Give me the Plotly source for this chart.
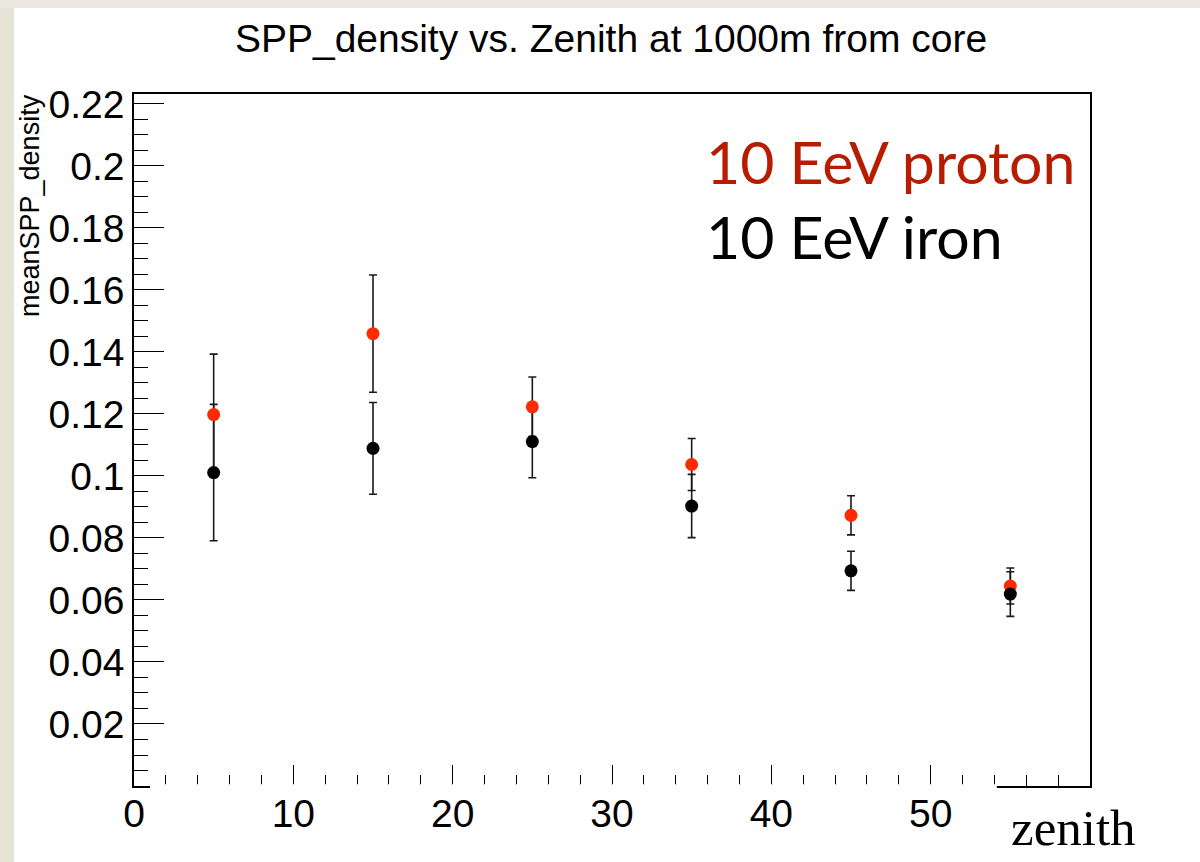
import plotly.graph_objects as go

# Mean SPP density at 1000 m from the shower core, per zenith bin
zenith = [5, 15, 25, 35, 45, 55]
proton_density = [0.1198, 0.1459, 0.1223, 0.1037, 0.0873, 0.0645]
proton_error = [0.0195, 0.0189, 0.0096, 0.0084, 0.0063, 0.0058]
iron_density = [0.1011, 0.1089, 0.1111, 0.0903, 0.0694, 0.0619]
iron_error = [0.0220, 0.0148, 0.0117, 0.0102, 0.0063, 0.0072]

y_tick_values = [0.02, 0.04, 0.06, 0.08, 0.10, 0.12, 0.14, 0.16, 0.18, 0.20, 0.22]
y_tick_labels = ["0.02", "0.04", "0.06", "0.08", "0.1", "0.12", "0.14", "0.16", "0.18", "0.2", "0.22"]
x_tick_values = [0, 10, 20, 30, 40, 50]
x_tick_labels = ["0", "10", "20", "30", "40", "50"]

W, H = 1200, 862
L, R, T, B = 134, 110, 94, 76
PW, PH = W - L - R, H - T - B


def px_x(px):
    return (px - L) / PW


def px_y(py):
    return (H - B - py) / PH


PROTON_RED = "#ff2a00"
BAR_COLOR = "#1a1a1a"
err_style = dict(type="data", thickness=1.6, width=4, color=BAR_COLOR)

fig = go.Figure()

# iron error bars underneath everything else
fig.add_trace(go.Scatter(
    x=zenith, y=iron_density, mode="markers",
    marker=dict(size=13, color="black", opacity=0),
    error_y=dict(array=iron_error, **err_style),
    showlegend=False, hoverinfo="skip",
))
# proton points with their error bars
fig.add_trace(go.Scatter(
    x=zenith, y=proton_density, mode="markers",
    marker=dict(size=13, color=PROTON_RED, symbol="circle"),
    error_y=dict(array=proton_error, **err_style),
    name="10 EeV proton", showlegend=False,
))
# iron points on top
fig.add_trace(go.Scatter(
    x=zenith, y=iron_density, mode="markers",
    marker=dict(size=13, color="black", symbol="circle"),
    name="10 EeV iron", showlegend=False,
))

axis_font = dict(family="Liberation Sans, Arial, sans-serif", size=39, color="black")

fig.update_xaxes(
    range=[0, 60], showgrid=False, zeroline=False,
    showline=True, linecolor="black", linewidth=1.5, mirror=True,
    ticks="inside", ticklen=21, tickwidth=1.3, tickcolor="black",
    tickvals=x_tick_values, ticktext=x_tick_labels, tickfont=axis_font,
    ticklabelstandoff=-8,
    minor=dict(ticks="inside", ticklen=11, tickwidth=1.3, tickcolor="black", dtick=2, tick0=0),
)
fig.update_yaxes(
    range=[0, 0.2232], showgrid=False, zeroline=False,
    showline=True, linecolor="black", linewidth=1.5, mirror=True,
    ticks="inside", ticklen=30, tickwidth=1.3, tickcolor="black",
    tickvals=y_tick_values, ticktext=y_tick_labels, tickfont=axis_font,
    minor=dict(ticks="inside", ticklen=14, tickwidth=1.3, tickcolor="black", dtick=0.005, tick0=0),
)

shapes = [
    # gap in the bottom axis line under the axis label
    dict(type="rect", xref="x", yref="paper", x0=54.15, x1=px_x(1093),
         y0=px_y(792), y1=px_y(784.3), fillcolor="white", line=dict(width=0), layer="above"),
    # textured page border, left and top
    dict(type="rect", xref="paper", yref="paper", x0=px_x(0), x1=px_x(14),
         y0=px_y(H), y1=px_y(0), fillcolor="#e7e3d6", line=dict(width=0), layer="above"),
    dict(type="rect", xref="paper", yref="paper", x0=px_x(0), x1=px_x(W),
         y0=px_y(8), y1=px_y(0), fillcolor="#ebe9df", line=dict(width=0), layer="above"),
]

annotations = [
    dict(text="meanSPP_density", textangle=-90, xref="paper", yref="paper",
         x=px_x(30), y=px_y(206), xanchor="center", yanchor="middle", showarrow=False,
         font=dict(family="Liberation Sans, Arial, sans-serif", size=27, color="black")),
    dict(text="10 EeV proton", xref="paper", yref="paper",
         x=px_x(704), y=px_y(161), xanchor="left", yanchor="middle", showarrow=False,
         font=dict(family="Lato, sans-serif", size=59, color="#b81c00")),
    dict(text="10 EeV iron", xref="paper", yref="paper",
         x=px_x(704), y=px_y(236), xanchor="left", yanchor="middle", showarrow=False,
         font=dict(family="Lato, sans-serif", size=59, color="black")),
    dict(text="zenith", xref="paper", yref="paper",
         x=px_x(1073), y=px_y(828), xanchor="center", yanchor="middle", showarrow=False,
         font=dict(family="Liberation Serif, Times New Roman, serif", size=51, color="black")),
]

fig.update_layout(
    width=W, height=H,
    margin=dict(l=L, r=R, t=T, b=B),
    paper_bgcolor="white", plot_bgcolor="white",
    title=dict(text="SPP_density vs. Zenith at 1000m from core",
               x=611 / W, xanchor="center",
               y=1 - 38 / H, yanchor="middle", yref="container",
               font=dict(family="Liberation Sans, Arial, sans-serif", size=39, color="black")),
    shapes=shapes, annotations=annotations,
)

fig.write_html("out.html")
